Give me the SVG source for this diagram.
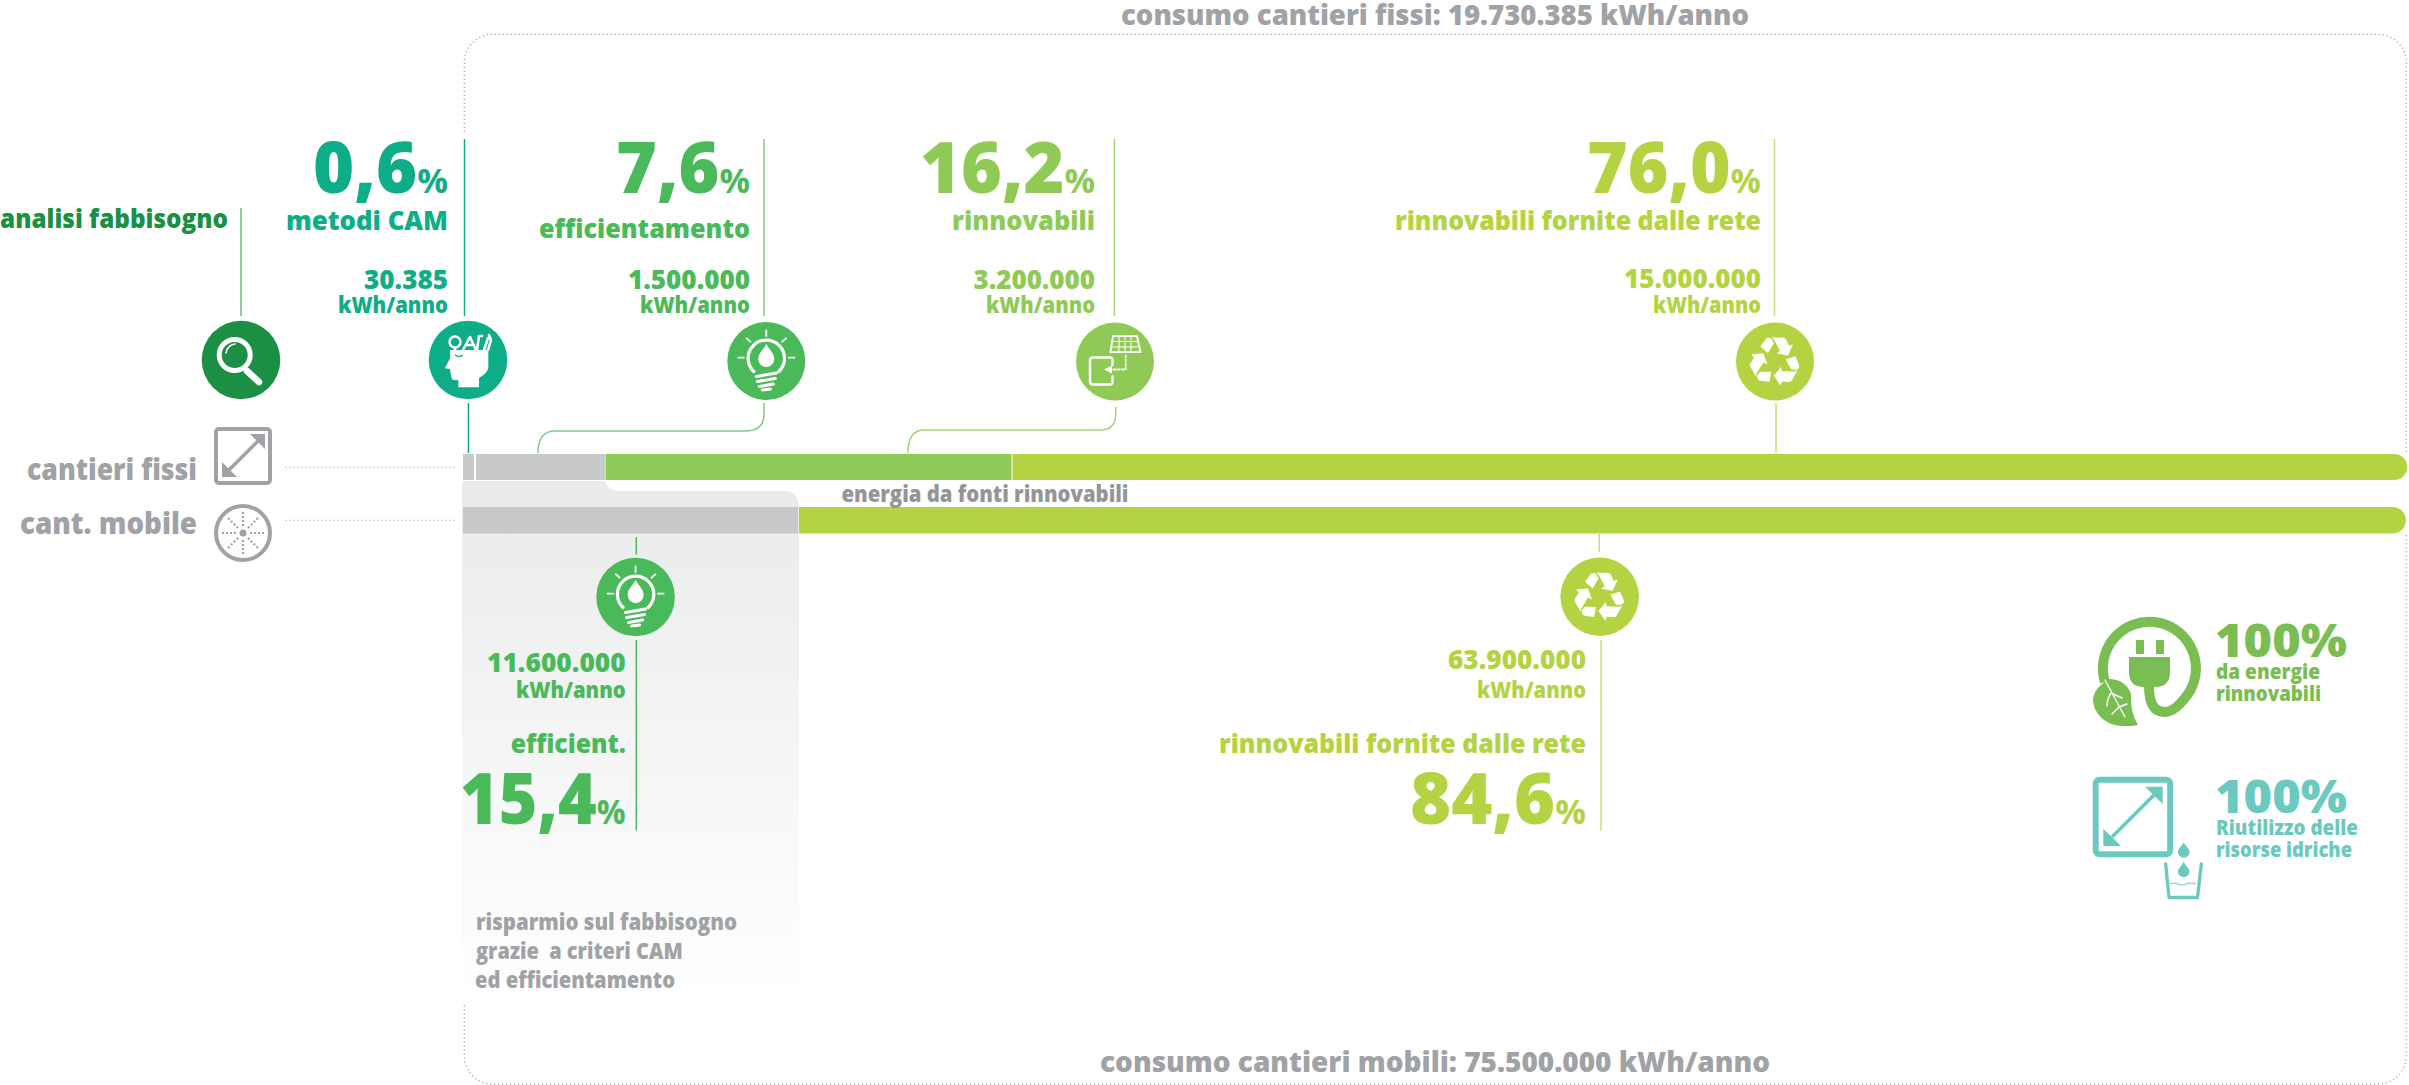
<svg xmlns="http://www.w3.org/2000/svg" xmlns:xlink="http://www.w3.org/1999/xlink" width="2409" height="1085" viewBox="0 0 2409 1085">
<style>
text{font-family:"Open Sans","Noto Sans","Liberation Sans",sans-serif;font-weight:800}
.big{font-size:70px}.pc{font-size:34px;font-weight:700}.lab{font-size:27px}.num{font-size:26px}.unit{font-size:22px}.side{font-size:30px}.title{font-size:29px}.note{font-size:23px}.c100{font-size:46px}.sub{font-size:21px}
.dark{fill:#1b8f43}.teal{fill:#0dae87}.gr{fill:#4ab95a}.sol{fill:#8fca56}.lime{fill:#b3d342}.grey{fill:#a0a2a5}.plug{fill:#7abd52}.wat{fill:#6cc9c0}
.frame{fill:none;stroke:#a7a9ac;stroke-width:1.3;stroke-dasharray:1.3 2.7}
.guide{fill:none;stroke:#bcbec0;stroke-width:1.2;stroke-dasharray:1.3 2.7}
.ln{fill:none;stroke-width:1.5}
.w{fill:none;stroke:#fff;stroke-linecap:round;stroke-linejoin:round}
.wf{fill:#fff}
.gs{fill:none;stroke:#a0a2a5}.gf{fill:#a0a2a5}
</style>
<defs>
<linearGradient id="panelFade" x1="0" y1="0" x2="0" y2="1"><stop offset="0" stop-color="#e9eaea"/><stop offset="1" stop-color="#fff"/></linearGradient>
<g id="bulb">
<path class="w" stroke-width="1.8" d="M0,-30.7V-25M-19.7,-22.7L-16,-19.3M19.7,-22.7L16,-19.3M-28,-3.3H-22.5M22.5,-3.3H28"/>
<path class="w" stroke-width="3.2" d="M-12.5,10.5A18.2,18.2 0 1 1 12.5,10.5"/>
<path class="w" stroke-width="3" d="M-10,15.5L10,12M-9,20.5L9,17.5M-7,25.5L7,23M-4,29L4,28"/>
<path class="wf" d="M0,-17C3,-11 8,-8 8,-2A8,8 0 0 1 -8,-2C-8,-8 -3,-11 0,-17Z"/>
</g>
<g id="arrow3">
<path class="wf" d="M-14.7,-15L-9,-22.7Q-6,-25 -3,-22L-1.3,-18L-7,-8.3Z"/>
<path class="wf" d="M-4,-24L8,-24Q10,-24 11,-22L14,-16L18,-17L13,-6L1.5,-8L5,-10.5L0,-20Q-1,-23 -4,-24Z"/>
</g>
<g id="recycle">
<use xlink:href="#arrow3" href="#arrow3"/>
<use xlink:href="#arrow3" href="#arrow3" transform="rotate(120)"/>
<use xlink:href="#arrow3" href="#arrow3" transform="rotate(240)"/>
</g>
</defs>

<g id="frame">
<path class="frame" d="M464.3,132V62A28,28 0 0 1 492,34.3H2378A28,28 0 0 1 2406.3,62V452M2406.3,535V1056A28,28 0 0 1 2378,1084H492A28,28 0 0 1 464.3,1056V1003"/>
<path class="guide" d="M285,467.3H456M285,520.3H456"/>
</g>

<g id="panel">
<path fill="url(#panelFade)" d="M462,481H605Q608,491 620,491H785Q797,491 799,505V1000H462Z"/>
</g>

<g id="bars">
<rect x="463" y="454" width="11" height="26" fill="#c8cac9"/>
<rect x="476" y="454" width="129" height="26" fill="#c8cac9"/>
<rect x="605.5" y="454" width="406" height="26" fill="#8fca56"/>
<path d="M1012.5,454H2394.3A13,13 0 0 1 2394.3,480H1012.5Z" fill="#b3d342"/>
<rect x="463" y="507" width="335" height="26.5" fill="#c8cac9"/>
<path d="M799,507H2392.7A13.2,13.2 0 0 1 2392.7,533.5H799Z" fill="#b3d342"/>
</g>

<g id="connectors">
<path class="ln" stroke="#6fbb85" d="M241,208V316"/>
<path class="ln" stroke="#0dae87" d="M464.5,139V316M468.4,403V453"/>
<path class="ln" stroke="#7ccd8a" d="M764,139V316M764,403V414Q764,431 745,431H555Q538,431 538,453"/>
<path class="ln" stroke="#a5d577" d="M1114.4,139V316M1115.7,407V414Q1115.7,430 1100,430H924Q908,430 908,453"/>
<path class="ln" stroke="#c5de80" d="M1774.5,139V316M1776,403V453M1599.3,534V552M1601,640V830.7"/>
<path class="ln" stroke="#4ab95a" d="M636.3,537V554.5M636.3,640V830.6"/>
</g>

<g id="title-top"><text class="title grey" x="1121" y="25" textLength="628" lengthAdjust="spacingAndGlyphs">consumo cantieri fissi: 19.730.385 kWh/anno</text></g>
<g id="title-bottom"><text class="title grey" x="1100" y="1072" textLength="670" lengthAdjust="spacingAndGlyphs">consumo cantieri mobili: 75.500.000 kWh/anno</text></g>

<g id="node-analisi">
<text class="lab dark" x="0" y="228" textLength="228" lengthAdjust="spacingAndGlyphs">analisi fabbisogno</text>
<circle cx="241" cy="360" r="39.3" fill="#1b8f43"/>
<circle class="w" cx="234.7" cy="355" r="15.5" stroke-width="5"/>
<path class="w" stroke-width="1.6" d="M226,353A10,10 0 0 1 235,344"/>
<path class="w" stroke-width="6.5" d="M247,371L259,382"/>
</g>

<g id="node-cam">
<text class="big teal" x="313" y="193" textLength="135" lengthAdjust="spacingAndGlyphs">0,6<tspan class="pc">%</tspan></text>
<text class="lab teal" x="286" y="230" textLength="162" lengthAdjust="spacingAndGlyphs">metodi CAM</text>
<text class="num teal" x="364" y="289" textLength="84" lengthAdjust="spacingAndGlyphs">30.385</text>
<text class="unit teal" x="338" y="313" textLength="110" lengthAdjust="spacingAndGlyphs">kWh/anno</text>
<circle cx="468" cy="360" r="39.3" fill="#0dae87"/>
<path class="wf" d="M450,350H488.3V367Q488,373 479,378V387.3H458.3V380H453Q451,379 450,369L445,368.3L450,358.3Z"/>
<circle class="w" cx="455" cy="342" r="5.5" stroke-width="2.4"/>
<path class="w" stroke-width="2.6" d="M455,348V352M463,350L470,337L476,350M466,345H474M477,350L479,336H482M488,350L491,340L489,335M484,350L488,338"/>
<path d="M455,355Q459,358 463,355" fill="none" stroke="#0dae87" stroke-width="1.5"/>
</g>

<g id="node-efficientamento">
<text class="big gr" x="616" y="193" textLength="134" lengthAdjust="spacingAndGlyphs">7,6<tspan class="pc">%</tspan></text>
<text class="lab gr" x="539" y="238" textLength="211" lengthAdjust="spacingAndGlyphs">efficientamento</text>
<text class="num gr" x="628" y="289" textLength="122" lengthAdjust="spacingAndGlyphs">1.500.000</text>
<text class="unit gr" x="640" y="313" textLength="110" lengthAdjust="spacingAndGlyphs">kWh/anno</text>
<circle cx="766.3" cy="361" r="39" fill="#4ab95a"/>
<use xlink:href="#bulb" href="#bulb" x="766.3" y="361"/>
</g>

<g id="node-rinnovabili">
<text class="big sol" x="920" y="193" textLength="175" lengthAdjust="spacingAndGlyphs">16,2<tspan class="pc">%</tspan></text>
<text class="lab sol" x="952" y="230" textLength="143" lengthAdjust="spacingAndGlyphs">rinnovabili</text>
<text class="num sol" x="973.5" y="289" textLength="121.5" lengthAdjust="spacingAndGlyphs">3.200.000</text>
<text class="unit sol" x="986" y="313" textLength="109" lengthAdjust="spacingAndGlyphs">kWh/anno</text>
<circle cx="1115" cy="361.5" r="39" fill="#8fca56"/>
<g transform="translate(1115,361.5)">
<path class="w" stroke-width="1.8" d="M-2,-25.3H22L25.5,-9.3H-4.6Z"/>
<path class="w" stroke-width="1.1" d="M-2.5,-20H23M-3.5,-14.5H24M4,-25V-9.5M10,-25V-9.5M16,-25V-9.5"/>
<path class="w" stroke-width="2.4" d="M-2.5,3.5V-1Q-2.5,-4 -5.5,-4H-22Q-25,-4 -25,-1V20Q-25,23 -22,23H-5.5Q-2.5,23 -2.5,20V15"/>
<path class="w" stroke-width="1.8" stroke-dasharray="1.8 2.2" stroke-linecap="butt" d="M10.7,-6V8H-4"/>
<path class="wf" d="M-11,8L-3,4V12Z"/>
</g>
</g>

<g id="node-rete-fissi">
<text class="big lime" x="1587" y="193" textLength="174" lengthAdjust="spacingAndGlyphs">76,0<tspan class="pc">%</tspan></text>
<text class="lab lime" x="1395" y="230" textLength="366" lengthAdjust="spacingAndGlyphs">rinnovabili fornite dalle rete</text>
<text class="num lime" x="1624" y="288" textLength="137" lengthAdjust="spacingAndGlyphs">15.000.000</text>
<text class="unit lime" x="1653" y="313" textLength="108" lengthAdjust="spacingAndGlyphs">kWh/anno</text>
<circle cx="1775" cy="361.5" r="39" fill="#b3d342"/>
<use xlink:href="#recycle" href="#recycle" x="1775" y="361.5"/>
</g>

<g id="node-energia"><text class="unit" fill="#939598" x="841.5" y="501.5" textLength="287" lengthAdjust="spacingAndGlyphs">energia da fonti rinnovabili</text></g>

<g id="node-cantieri-fissi">
<text class="side grey" x="27" y="480" textLength="170" lengthAdjust="spacingAndGlyphs">cantieri fissi</text>
<rect class="gs" x="216" y="429" width="54" height="54" rx="3" stroke-width="4"/>
<path class="gs" stroke-width="3.5" d="M228,471L259,440"/>
<path class="gf" d="M265,434V449L250,434ZM222,477V462L237,477Z"/>
</g>

<g id="node-cant-mobile">
<text class="side grey" x="20" y="534" textLength="177" lengthAdjust="spacingAndGlyphs">cant. mobile</text>
<circle class="gs" cx="243" cy="533" r="27" stroke-width="4"/>
<circle class="gf" cx="243" cy="533" r="3.5"/>
<path class="gs" stroke-width="2.2" stroke-dasharray="2 2" d="M243,526V510M243,540V556M236,533H220M250,533H266M238,528L227,517M248,538L259,549M248,528L259,517M238,538L227,549"/>
</g>

<g id="node-efficient-mobile">
<circle cx="635.6" cy="597" r="39.3" fill="#4ab95a"/>
<use xlink:href="#bulb" href="#bulb" x="635.6" y="597"/>
<text class="num gr" x="487" y="672" textLength="138.7" lengthAdjust="spacingAndGlyphs">11.600.000</text>
<text class="unit gr" x="516" y="698" textLength="109.7" lengthAdjust="spacingAndGlyphs">kWh/anno</text>
<text class="lab gr" x="510.7" y="753" textLength="115.3" lengthAdjust="spacingAndGlyphs">efficient.</text>
<text class="big gr" x="460" y="824.4" textLength="165.7" lengthAdjust="spacingAndGlyphs">15,4<tspan class="pc">%</tspan></text>
</g>

<g id="node-risparmio">
<text class="note grey" x="476" y="930" textLength="261" lengthAdjust="spacingAndGlyphs">risparmio sul fabbisogno</text>
<text class="note grey" x="476" y="959" textLength="206.7" lengthAdjust="spacingAndGlyphs" xml:space="preserve">grazie  a criteri CAM</text>
<text class="note grey" x="475" y="988" textLength="200" lengthAdjust="spacingAndGlyphs">ed efficientamento</text>
</g>

<g id="node-rete-mobili">
<circle cx="1599.7" cy="596.7" r="39.3" fill="#b3d342"/>
<use xlink:href="#recycle" href="#recycle" x="1599.7" y="596.7"/>
<text class="num lime" x="1448" y="669" textLength="138" lengthAdjust="spacingAndGlyphs">63.900.000</text>
<text class="unit lime" x="1477" y="697.7" textLength="109" lengthAdjust="spacingAndGlyphs">kWh/anno</text>
<text class="lab lime" x="1219" y="752.7" textLength="367" lengthAdjust="spacingAndGlyphs">rinnovabili fornite dalle rete</text>
<text class="big lime" x="1410" y="824" textLength="176" lengthAdjust="spacingAndGlyphs">84,6<tspan class="pc">%</tspan></text>
</g>

<g id="node-energie">
<path fill="none" stroke="#7abd52" stroke-width="10" d="M2105,682A46.5,46.5 0 1 1 2190,691C2184,700 2175,712 2165,712C2153,712 2149,702 2149,686"/>
<path class="plug" d="M2136,640h8v14h-8ZM2156,640h8v14h-8ZM2129,657H2170V672Q2170,687 2155,687H2144Q2129,687 2129,672Z"/>
<path class="plug" d="M2110,679Q2126,680 2131,694Q2130,712 2138,725Q2110,730 2098,714Q2090,703 2095,692Q2100,684 2110,679Z"/>
<path class="w" stroke-width="1.4" d="M2105,680L2125,717M2111,693L2122,698M2111,693Q2107,698 2107,706M2119,707L2127,704M2119,707L2112,714"/>
<text class="c100 plug" x="2215" y="657" textLength="132" lengthAdjust="spacingAndGlyphs">100%</text>
<text class="sub plug" x="2216" y="679" textLength="104" lengthAdjust="spacingAndGlyphs">da energie</text>
<text class="sub plug" x="2216" y="701" textLength="105" lengthAdjust="spacingAndGlyphs">rinnovabili</text>
</g>

<g id="node-idriche">
<rect x="2095.7" y="779.7" width="74.5" height="74.5" rx="4" fill="none" stroke="#6cc9c0" stroke-width="6"/>
<path fill="none" stroke="#6cc9c0" stroke-width="3.6" d="M2112,837L2154,795"/>
<path class="wat" d="M2162.7,786.7V804L2145,786.7ZM2103.3,846V828.7L2121,846Z"/>
<path class="wat" d="M2183.7,842C2185,846 2189.5,848 2189.5,852A5.8,5.8 0 0 1 2177.9,852C2177.9,848 2182.4,846 2183.7,842ZM2183.7,861C2185,866 2189.5,868 2189.5,871.5A5.8,5.8 0 0 1 2177.9,871.5C2177.9,868 2182.4,866 2183.7,861Z"/>
<path fill="none" stroke="#6cc9c0" stroke-width="3.3" stroke-linejoin="round" d="M2165.5,862.5L2169,897.5H2197.5L2201.5,862.5"/>
<path fill="none" stroke="#6cc9c0" stroke-width="1" d="M2170,884Q2174,882 2178,884T2186,884T2196,884"/>
<text class="c100 wat" x="2215" y="813" textLength="132" lengthAdjust="spacingAndGlyphs">100%</text>
<text class="sub wat" x="2216" y="835" textLength="142" lengthAdjust="spacingAndGlyphs">Riutilizzo delle</text>
<text class="sub wat" x="2216" y="857" textLength="136" lengthAdjust="spacingAndGlyphs">risorse idriche</text>
</g>
</svg>
